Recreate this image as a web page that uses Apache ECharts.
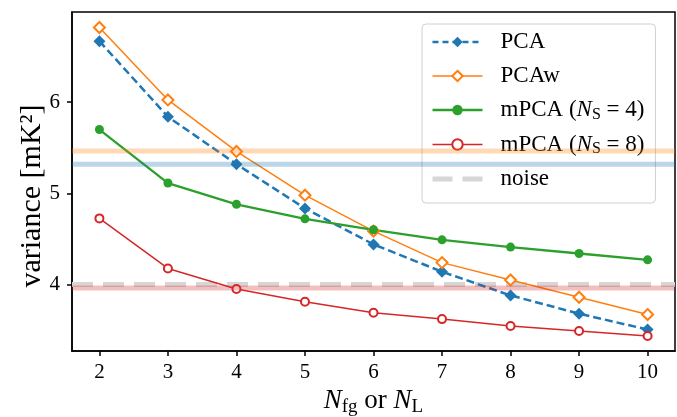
<!DOCTYPE html>
<html>
<head>
<meta charset="utf-8">
<style>html,body{margin:0;padding:0;background:#fff}#c{width:677px;height:417px}</style>
<script src="https://cdn.jsdelivr.net/npm/echarts@6/dist/echarts.min.js"></script>
</head>
<body>
<div id="c"></div>
<script>
var xValues = [2, 3, 4, 5, 6, 7, 8, 9, 10];
var pca = [6.67, 5.84, 5.32, 4.835, 4.44, 4.14, 3.88, 3.68, 3.505];
var pcaw = [6.82, 6.025, 5.46, 4.98, 4.586, 4.24, 4.05, 3.86, 3.67];
var mpca4 = [5.70, 5.113, 4.88, 4.72, 4.60, 4.49, 4.41, 4.34, 4.27];
var mpca8 = [4.725, 4.176, 3.95, 3.81, 3.69, 3.62, 3.545, 3.49, 3.435];
var noiseLevel = 4.0;
var bandPCA = 5.32;
var bandPCAw = 5.465;
var bandMPCA8 = 3.96;
var xTicks = [2, 3, 4, 5, 6, 7, 8, 9, 10];
var yTicks = [4, 5, 6];
var xMin = 1.6, xMax = 10.4, yMin = 3.27, yMax = 6.99;

var FONT = '"Liberation Serif", "DejaVu Serif", serif';
function pairs(ys) { return xValues.map(function (x, i) { return [x, ys[i]]; }); }
function hline(v) { return [[xMin, v], [xMax, v]]; }

var C_BLUE = '#1f77b4', C_ORANGE = '#ff7f0e', C_GREEN = '#2ca02c', C_RED = '#d62728', C_NOISE = '#d6d6d6';

var chart = echarts.init(document.getElementById('c'), null, { renderer: 'canvas' });
var legendRich = {
  it: { fontStyle: 'italic', fontSize: 23, fontFamily: FONT, color: '#000' },
  sub: { fontSize: 16, fontFamily: FONT, color: '#000', padding: [9, 0, 0, 0] }
};
var nameRich = {
  it: { fontStyle: 'italic', fontSize: 27, fontFamily: FONT, color: '#000' },
  sub: { fontSize: 19, fontFamily: FONT, color: '#000', padding: [11, 0, 0, 0] }
};
var legendNames = {
  'PCA': 'PCA',
  'PCAw': 'PCAw',
  'mPCA4': 'mPCA ({it|N}{sub|S} = 4)',
  'mPCA8': 'mPCA ({it|N}{sub|S} = 8)',
  'noise': 'noise'
};
chart.setOption({
  animation: false,
  backgroundColor: '#fff',
  grid: { left: 72, top: 12, right: 2, bottom: 66, containLabel: false, outerBoundsMode: 'none',
    show: true, borderColor: '#000', borderWidth: 1.5, backgroundColor: 'transparent' },
  xAxis: {
    type: 'value', min: xMin, max: xMax,
    splitLine: { show: false },
    axisLine: { lineStyle: { color: '#000', width: 1.5 } },
    axisTick: { customValues: xTicks, length: 5, lineStyle: { color: '#000', width: 1.5 } },
    axisLabel: { customValues: xTicks, fontSize: 21, fontFamily: FONT, color: '#000', margin: 11 },
    name: '{it|N}{sub|fg} or {it|N}{sub|L}',
    nameLocation: 'middle', nameGap: 35,
    nameTextStyle: { fontSize: 27, fontFamily: FONT, color: '#000', rich: nameRich }
  },
  yAxis: {
    type: 'value', min: yMin, max: yMax,
    splitLine: { show: false },
    axisLine: { show: true, lineStyle: { color: '#000', width: 1.5 } },
    axisTick: { show: true, customValues: yTicks, length: 5, lineStyle: { color: '#000', width: 1.5 } },
    axisLabel: { customValues: yTicks, fontSize: 21, fontFamily: FONT, color: '#000', margin: 12 }
  },
  graphic: [{
    type: 'text', x: 32, y: 196, rotation: Math.PI / 2,
    style: { text: 'variance [mK²]', fontSize: 30, fontFamily: FONT, fill: '#000', align: 'center', verticalAlign: 'middle' }
  }],
  legend: {
    orient: 'vertical', left: 422, top: 24,
    data: [
      { name: 'PCA', lineStyle: { color: C_BLUE, width: 2.5, type: [6, 4] } },
      { name: 'PCAw', lineStyle: { color: C_ORANGE, width: 1.5 } },
      { name: 'mPCA4', lineStyle: { color: C_GREEN, width: 2.3 } },
      { name: 'mPCA8', lineStyle: { color: C_RED, width: 1.5 } },
      { name: 'noise', lineStyle: { color: C_NOISE, width: 5, type: [20, 10] }, itemStyle: { color: 'rgba(0,0,0,0)', borderWidth: 0 } }
    ],
    itemWidth: 50, itemHeight: 13, itemGap: 10,
    padding: [6, 11, 12, 8],
    backgroundColor: 'rgba(255,255,255,0.8)', borderColor: '#d0d0d0', borderWidth: 1, borderRadius: 4,
    formatter: function (n) { return legendNames[n]; },
    textStyle: { fontSize: 23, fontFamily: FONT, color: '#000', lineHeight: 24, padding: [0, 0, 0, 13], rich: legendRich }
  },
  series: [
    { name: 'PCA', type: 'line', data: pairs(pca), symbol: 'diamond', symbolSize: 12, z: 3,
      itemStyle: { color: C_BLUE },
      lineStyle: { color: C_BLUE, width: 2.5, type: [8, 4] } },
    { name: 'PCAw', type: 'line', data: pairs(pcaw), symbol: 'emptyDiamond', symbolSize: 11, z: 3,
      itemStyle: { color: C_ORANGE, borderColor: C_ORANGE, borderWidth: 2 },
      lineStyle: { color: C_ORANGE, width: 1.5 } },
    { name: 'mPCA4', type: 'line', data: pairs(mpca4), symbol: 'circle', symbolSize: 9, z: 3,
      itemStyle: { color: C_GREEN },
      lineStyle: { color: C_GREEN, width: 2.3 } },
    { name: 'mPCA8', type: 'line', data: pairs(mpca8), symbol: 'emptyCircle', symbolSize: 8, z: 3,
      itemStyle: { color: C_RED, borderColor: C_RED, borderWidth: 2 },
      lineStyle: { color: C_RED, width: 1.5 } },
    { name: 'noise', type: 'line', data: hline(noiseLevel), symbol: 'none', z: 2, silent: true,
      itemStyle: { color: 'rgba(0,0,0,0)' },
      lineStyle: { color: C_NOISE, width: 5, type: [21, 10] } },
    { name: 'bandPCAw', type: 'line', data: hline(bandPCAw), symbol: 'none', z: 4, silent: true,
      lineStyle: { color: 'rgba(255,127,14,0.3)', width: 5 } },
    { name: 'bandPCA', type: 'line', data: hline(bandPCA), symbol: 'none', z: 4, silent: true,
      lineStyle: { color: 'rgba(31,119,180,0.3)', width: 5 } },
    { name: 'bandMPCA8', type: 'line', data: hline(bandMPCA8), symbol: 'none', z: 4, silent: true,
      lineStyle: { color: 'rgba(214,39,40,0.3)', width: 5 } }
  ]
});
</script>
</body>
</html>
